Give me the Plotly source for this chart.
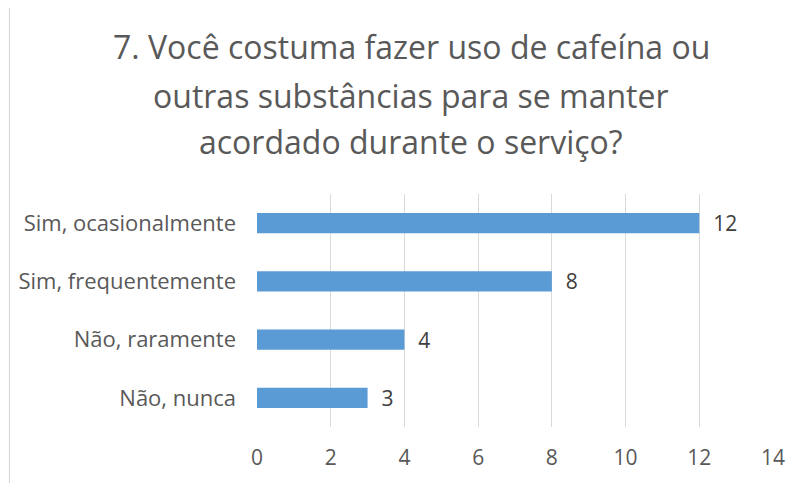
import plotly.graph_objects as go

categories = ["Não, nunca", "Não, raramente", "Sim, frequentemente", "Sim, ocasionalmente"]
values = [3, 4, 8, 12]
x_ticks = [0, 2, 4, 6, 8, 10, 12, 14]
title_lines = ["7. Você costuma fazer uso de cafeína ou",
               "outras substâncias para se manter",
               "acordado durante o serviço?"]

W, H = 803, 483
OFF = 8  # page body offset
L = 257 - OFF
T = 194 - OFF
R = W - (773 - OFF)
B = H - (427 - OFF)
pw, ph = W - L - R, H - T - B

def px_x(px):
    return (px - OFF - L) / pw

def px_y(py):
    return (H - B - (py - OFF)) / ph

font = "Open Sans"
txt = "#595959"

fig = go.Figure(go.Bar(
    x=values, y=categories, orientation="h",
    marker=dict(color="#5B9BD5", line=dict(width=0)),
    width=0.345,
    text=[str(v) for v in values], texttemplate="  %{text}", textposition="outside",
    constraintext="none",
    textfont=dict(family=font, size=21, color="#404040"),
    cliponaxis=False,
))

fig.update_layout(
    width=W, height=H,
    margin=dict(l=L, r=R, t=T, b=B, autoexpand=False),
    paper_bgcolor="white", plot_bgcolor="white",
    showlegend=False,
    xaxis=dict(range=[0, 14], tickvals=x_ticks, showgrid=True, gridcolor="#d9d9d9",
               gridwidth=1, zeroline=False, showline=False, ticks="", automargin=False,
               tickfont=dict(family=font, size=21, color=txt), ticklabelstandoff=16),
    yaxis=dict(showgrid=False, zeroline=False, showline=False, ticks="", automargin=False,
               tickfont=dict(family=font, size=22, color=txt), ticklabelstandoff=20),
    shapes=[dict(type="rect", xref="paper", yref="paper",
                 x0=px_x(9.5), x1=px_x(900), y0=px_y(4.5), y1=px_y(600),
                 line=dict(color="#d9d9d9", width=1.2), fillcolor="rgba(0,0,0,0)", layer="below")],
    annotations=[dict(xref="paper", yref="paper", x=px_x(411), y=px_y(yy),
                      text=t, showarrow=False, xanchor="center", yanchor="middle",
                      font=dict(family=font, size=32, color=txt))
                 for t, yy in zip(title_lines, [47, 96, 141])],
)

fig.write_html("out.html")
